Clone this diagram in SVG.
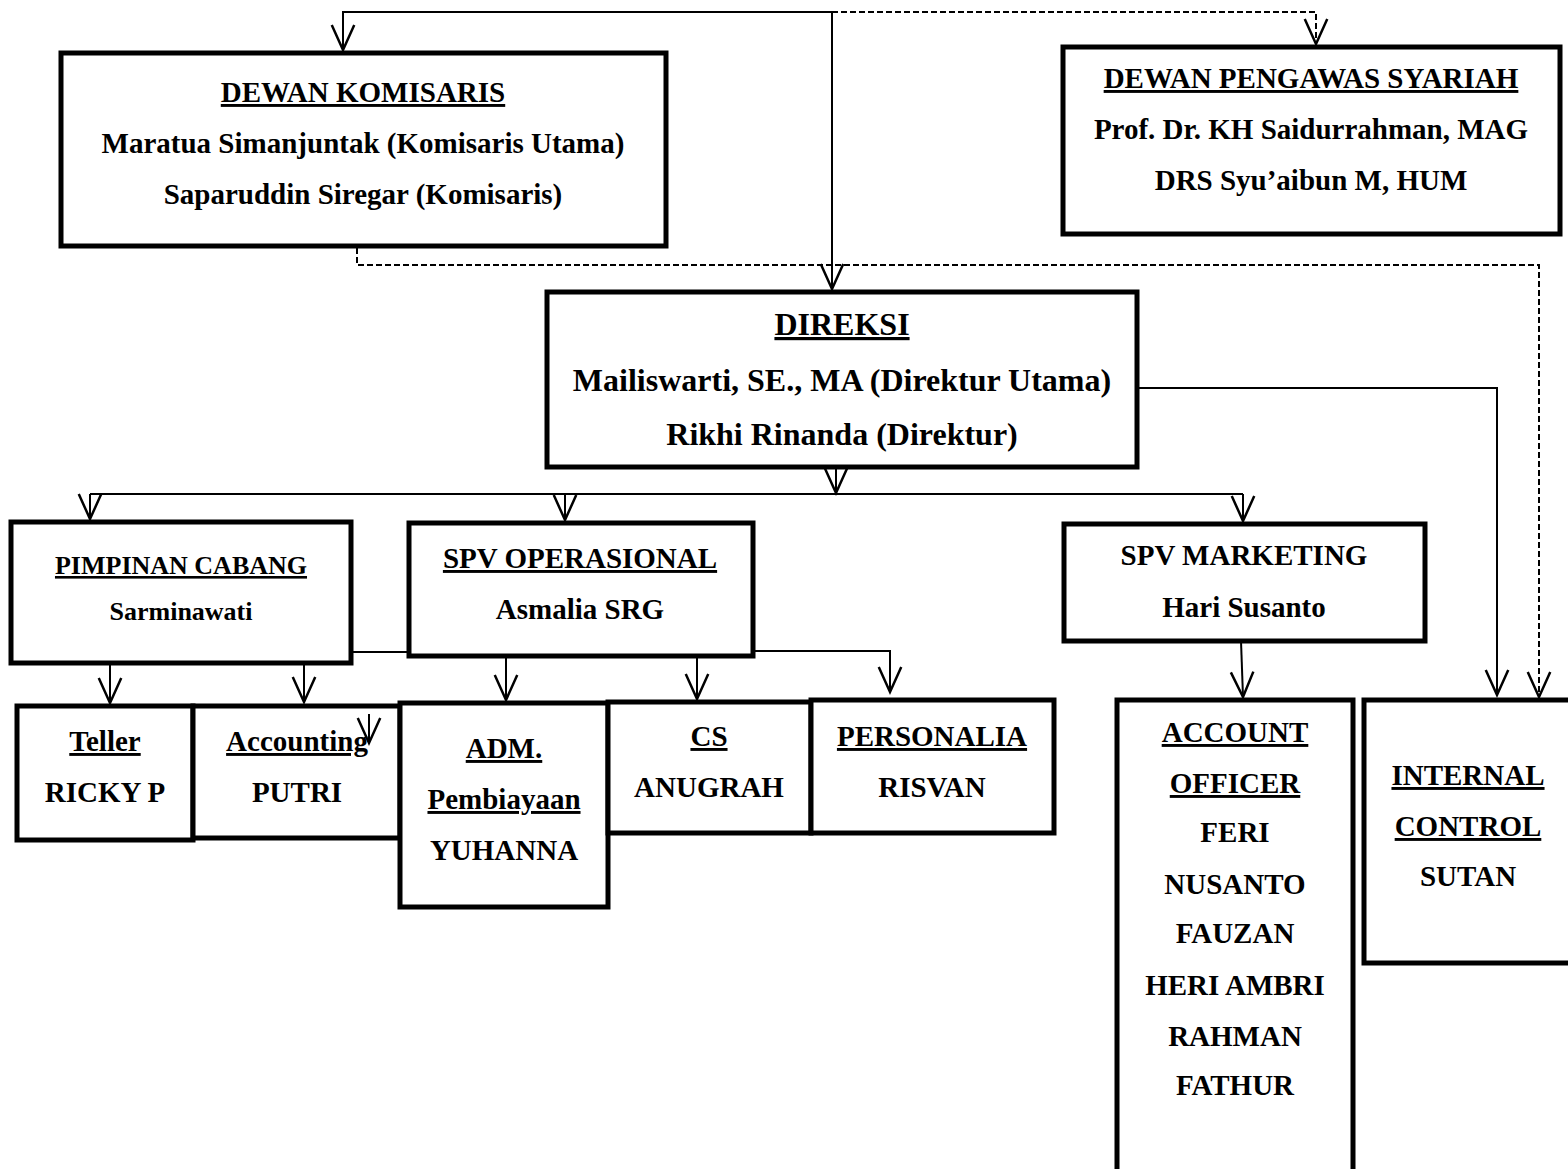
<svg xmlns="http://www.w3.org/2000/svg" width="1568" height="1169" viewBox="0 0 1568 1169">
<style>
.box{fill:#fff;stroke:#000;stroke-width:5;stroke-linejoin:miter}
.t{font-family:"Liberation Serif","Times New Roman",serif;font-weight:bold;font-size:29px;text-anchor:middle;fill:#000}
.u{text-decoration:underline}
.c{fill:none;stroke:#000;stroke-width:2}
.d{fill:none;stroke:#000;stroke-width:2;stroke-dasharray:6,3}
</style>
<defs>
<marker id="ah" markerUnits="userSpaceOnUse" markerWidth="30" markerHeight="30" viewBox="-22 -11 24 22" refX="0" refY="0" orient="auto" overflow="visible">
<path d="M-20,-9 L0,0 L-20,9" fill="none" stroke="#000" stroke-width="2"/>
</marker>
</defs>
<rect width="1568" height="1169" fill="#fff"/>
<g id="connectors">
<path class="c" d="M832,12 L343,12 L343,50" marker-end="url(#ah)"/>
<path class="c" d="M832,12 L832,289" marker-end="url(#ah)"/>
<path class="d" d="M832,12 L1316,12 L1316,44" marker-end="url(#ah)"/>
<path class="d" d="M357,248 L357,265 L1539,265 L1539,697" marker-end="url(#ah)"/>
<path class="c" d="M1137,388 L1497,388 L1497,695" marker-end="url(#ah)"/>
<path class="c" d="M836,467 L836,493" marker-end="url(#ah)"/>
<path class="c" d="M90,494 L1243,494"/>
<path class="c" d="M90,494 L90,519" marker-end="url(#ah)"/>
<path class="c" d="M565,494 L565,520" marker-end="url(#ah)"/>
<path class="c" d="M1243,494 L1243,521" marker-end="url(#ah)"/>
<path class="c" d="M110,663 L110,703" marker-end="url(#ah)"/>
<path class="c" d="M304,663 L304,702" marker-end="url(#ah)"/>
<path class="c" d="M351,652 L409,652"/>
<path class="c" d="M753,651 L890,651 L890,692" marker-end="url(#ah)"/>
<path class="c" d="M506,656 L506,700" marker-end="url(#ah)"/>
<path class="c" d="M697,656 L697,699" marker-end="url(#ah)"/>
<path class="c" d="M1241,641 L1243,697" marker-end="url(#ah)"/>
</g>
<g id="dewan-komisaris">
<rect class="box" x="61" y="53" width="605" height="193"/>
<text class="t u" x="363" y="102">DEWAN KOMISARIS</text>
<text class="t" x="363" y="153">Maratua Simanjuntak (Komisaris Utama)</text>
<text class="t" x="363" y="204">Saparuddin Siregar (Komisaris)</text>
</g>
<g id="dewan-pengawas-syariah">
<rect class="box" x="1063" y="47" width="497" height="187"/>
<text class="t u" x="1311" y="88">DEWAN PENGAWAS SYARIAH</text>
<text class="t" x="1311" y="139">Prof. Dr. KH Saidurrahman, MAG</text>
<text class="t" x="1311" y="190">DRS Syu’aibun M, HUM</text>
</g>
<g id="direksi">
<rect class="box" x="547" y="292" width="590" height="175"/>
<text class="t u" x="842" y="335" style="font-size:32px">DIREKSI</text>
<text class="t" x="842" y="391" style="font-size:32px">Mailiswarti, SE., MA (Direktur Utama)</text>
<text class="t" x="842" y="445" style="font-size:32px">Rikhi Rinanda (Direktur)</text>
</g>
<g id="pimpinan-cabang">
<rect class="box" x="11" y="522" width="340" height="141"/>
<text class="t u" x="181" y="574" style="font-size:26px">PIMPINAN CABANG</text>
<text class="t" x="181" y="620" style="font-size:26px">Sarminawati</text>
</g>
<g id="spv-operasional">
<rect class="box" x="409" y="523" width="344" height="133"/>
<text class="t u" x="580" y="568">SPV OPERASIONAL</text>
<text class="t" x="580" y="619">Asmalia SRG</text>
</g>
<g id="spv-marketing">
<rect class="box" x="1064" y="524" width="361" height="117"/>
<text class="t" x="1244" y="565">SPV MARKETING</text>
<text class="t" x="1244" y="617">Hari Susanto</text>
</g>
<g id="teller">
<rect class="box" x="17" y="706" width="176" height="134"/>
<text class="t u" x="105" y="751">Teller</text>
<text class="t" x="105" y="802">RICKY P</text>
</g>
<g id="accounting">
<rect class="box" x="193" y="706" width="207" height="132"/>
<text class="t u" x="297" y="751">Accounting</text>
<text class="t" x="297" y="802">PUTRI</text>
<path class="c" d="M369,714 L369,743" marker-end="url(#ah)"/>
</g>
<g id="adm-pembiayaan">
<rect class="box" x="400" y="703" width="208" height="204"/>
<text class="t u" x="504" y="758">ADM.</text>
<text class="t u" x="504" y="809">Pembiayaan</text>
<text class="t" x="504" y="860">YUHANNA</text>
</g>
<g id="cs">
<rect class="box" x="608" y="702" width="203" height="131"/>
<text class="t u" x="709" y="746">CS</text>
<text class="t" x="709" y="797">ANUGRAH</text>
</g>
<g id="personalia">
<rect class="box" x="811" y="700" width="243" height="133"/>
<text class="t u" x="932" y="746">PERSONALIA</text>
<text class="t" x="932" y="797">RISVAN</text>
</g>
<g id="account-officer">
<rect class="box" x="1117" y="700" width="236" height="480"/>
<text class="t u" x="1235" y="742">ACCOUNT</text>
<text class="t u" x="1235" y="793">OFFICER</text>
<text class="t" x="1235" y="842">FERI</text>
<text class="t" x="1235" y="894">NUSANTO</text>
<text class="t" x="1235" y="943">FAUZAN</text>
<text class="t" x="1235" y="995">HERI AMBRI</text>
<text class="t" x="1235" y="1046">RAHMAN</text>
<text class="t" x="1235" y="1095">FATHUR</text>
</g>
<g id="internal-control">
<rect class="box" x="1364" y="700" width="215" height="263"/>
<text class="t u" x="1468" y="785">INTERNAL</text>
<text class="t u" x="1468" y="836">CONTROL</text>
<text class="t" x="1468" y="886">SUTAN</text>
</g>
</svg>
